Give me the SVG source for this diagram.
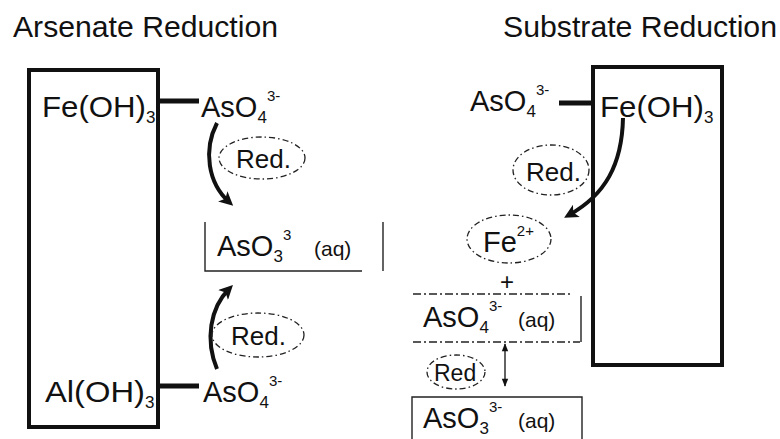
<svg xmlns="http://www.w3.org/2000/svg" width="780" height="439" viewBox="0 0 780 439">
<style>
text{font-family:"Liberation Sans",Arial,sans-serif;fill:#111}
.t{font-size:29px}
.m{font-size:29px}
.sub{font-size:17px}
.sup{font-size:15px}
.aq{font-size:21px}
.r{font-size:26px}
.box{fill:none;stroke:#111;stroke-width:4}
.link{stroke:#111;stroke-width:5}
.ell{fill:none;stroke:#222;stroke-width:1.3;stroke-dasharray:6 3 1.5 3}
.thin{fill:none;stroke:#222;stroke-width:1.4}
.dash{fill:none;stroke:#222;stroke-width:1.4;stroke-dasharray:8 3 2 3}
.arr{fill:none;stroke:#111;stroke-width:4}
</style>
<defs>
<marker id="ah" viewBox="0 0 10 10" refX="6" refY="5" markerWidth="16" markerHeight="14" markerUnits="userSpaceOnUse" orient="auto">
<path d="M0,0 L10,5 L0,10 L2.5,5 Z" fill="#111"/>
</marker>
<marker id="sh" viewBox="0 0 10 10" refX="9" refY="5" markerWidth="9" markerHeight="8" markerUnits="userSpaceOnUse" orient="auto-start-reverse">
<path d="M0,1 L10,5 L0,9 Z" fill="#111"/>
</marker>
</defs>
<g id="titles">
<text class="t" x="13" y="37" textLength="265" lengthAdjust="spacingAndGlyphs">Arsenate Reduction</text>
<text class="t" x="503" y="37" textLength="274" lengthAdjust="spacingAndGlyphs">Substrate Reduction</text>
</g>
<g id="connectors">
<line class="link" x1="158" y1="101" x2="199" y2="101"/>
<line class="link" x1="158" y1="386" x2="199" y2="386"/>
<line class="link" x1="559" y1="103" x2="593" y2="103"/>
<path class="arr" d="M217,123 C203,150 208,183 229,202" marker-end="url(#ah)"/>
<path class="arr" d="M217,369 C205,340 210,308 229,289" marker-end="url(#ah)"/>
<path class="arr" d="M623,118 C622,165 605,195 569,215" marker-end="url(#ah)"/>
<line class="thin" x1="505" y1="344" x2="505" y2="386" marker-start="url(#sh)" marker-end="url(#sh)"/>
</g>
<g id="fe-left">
<rect class="box" x="29" y="70" width="129" height="357"/>
<text class="m" x="42" y="117"><tspan textLength="104" lengthAdjust="spacingAndGlyphs">Fe(OH)</tspan><tspan class="sub" dy="6">3</tspan></text>
</g>
<g id="al-left">
<text class="m" x="45" y="402"><tspan textLength="100" lengthAdjust="spacingAndGlyphs">Al(OH)</tspan><tspan class="sub" dy="6">3</tspan></text>
</g>
<g id="aso4-top-left">
<text class="m" x="201" y="117">AsO<tspan class="sub" dy="6">4</tspan><tspan class="sup" dy="-22">3-</tspan></text>
</g>
<g id="red-1">
<ellipse class="ell" cx="262" cy="158" rx="43" ry="21"/>
<text class="r" x="236" y="168">Red.</text>
</g>
<g id="aso3-left">
<path class="thin" d="M205,222 L205,271 L362,271"/>
<line class="thin" x1="383" y1="222" x2="383" y2="271"/>
<text class="m" x="217" y="256">AsO<tspan class="sub" dy="6">3</tspan><tspan class="sup" dy="-22">3</tspan></text>
<text class="aq" x="314" y="256">(aq)</text>
</g>
<g id="red-2">
<ellipse class="ell" cx="258" cy="335" rx="46" ry="22"/>
<text class="r" x="231" y="345">Red.</text>
</g>
<g id="aso4-bottom-left">
<text class="m" x="203" y="402">AsO<tspan class="sub" dy="6">4</tspan><tspan class="sup" dy="-22">3-</tspan></text>
</g>
<g id="fe-right">
<rect class="box" x="593" y="67" width="129" height="298"/>
<text class="m" x="600" y="117"><tspan textLength="104" lengthAdjust="spacingAndGlyphs">Fe(OH)</tspan><tspan class="sub" dy="6">3</tspan></text>
</g>
<g id="aso4-right">
<text class="m" x="470" y="111">AsO<tspan class="sub" dy="6">4</tspan><tspan class="sup" dy="-22">3-</tspan></text>
</g>
<g id="red-3">
<ellipse class="ell" cx="551" cy="170" rx="38" ry="25"/>
<text class="r" x="526" y="181">Red.</text>
</g>
<g id="fe2">
<ellipse class="ell" cx="509" cy="239" rx="42" ry="24"/>
<text class="m" x="483" y="252">Fe<tspan class="sup" dy="-16">2+</tspan></text>
</g>
<g id="plus">
<text class="aq" x="500" y="290" style="font-size:24px">+</text>
</g>
<g id="aso4-aq">
<line class="dash" x1="413" y1="294" x2="572" y2="294"/>
<line class="dash" x1="413" y1="342" x2="580" y2="342"/>
<line class="thin" x1="581" y1="296" x2="581" y2="342"/>
<text class="m" x="423" y="327">AsO<tspan class="sub" dy="6">4</tspan><tspan class="sup" dy="-22">3-</tspan></text>
<text class="aq" x="518" y="327">(aq)</text>
</g>
<g id="red-4">
<ellipse class="ell" cx="456" cy="372" rx="29" ry="17"/>
<text class="r" x="434" y="381" style="font-size:23px">Red</text>
</g>
<g id="aso3-aq">
<path class="thin" d="M412,439 L412,397 L582,397 L582,439"/>
<text class="m" x="423" y="428">AsO<tspan class="sub" dy="6">3</tspan><tspan class="sup" dy="-22">3-</tspan></text>
<text class="aq" x="518" y="428">(aq)</text>
</g>
</svg>
